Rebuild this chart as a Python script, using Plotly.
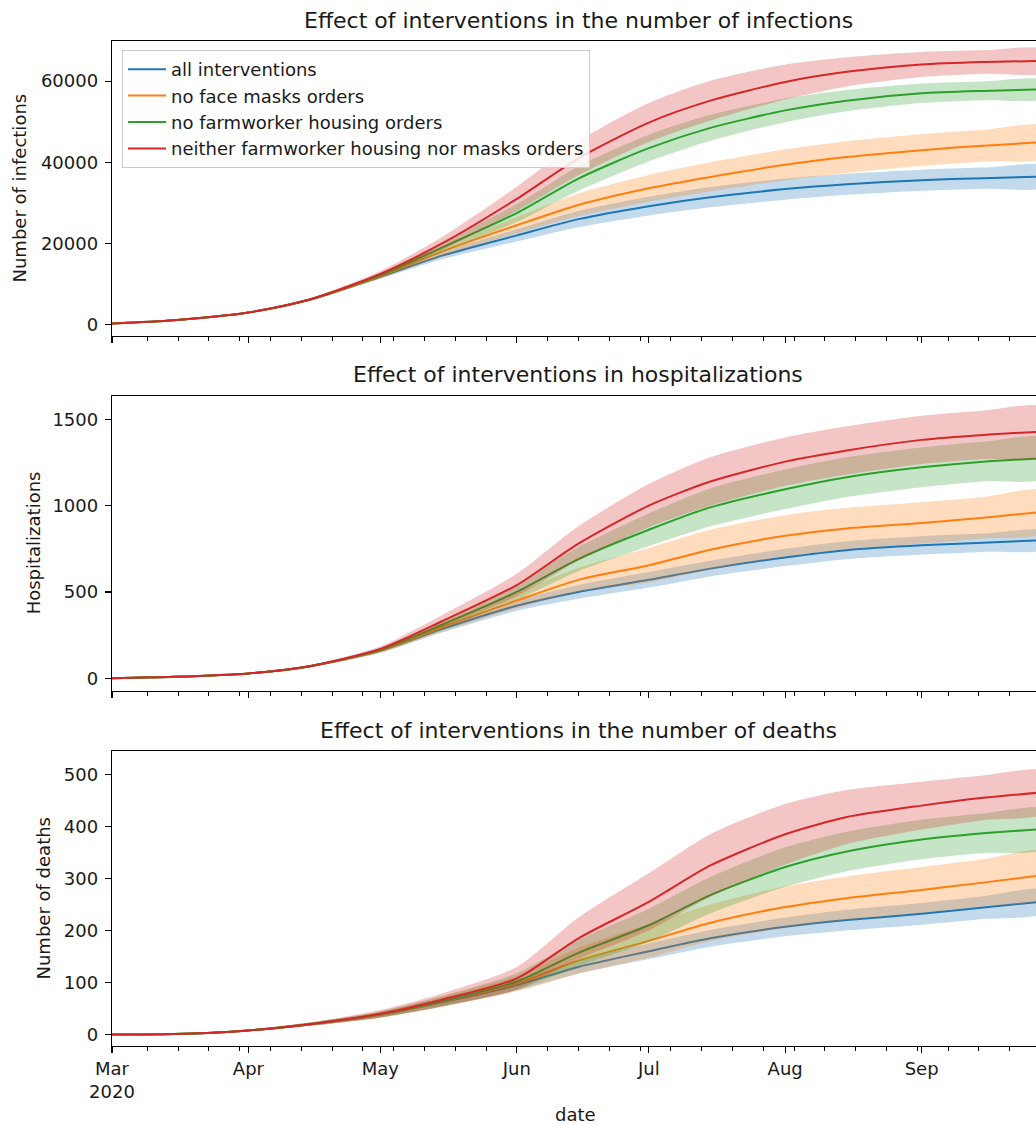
import plotly.graph_objects as go
import pandas as pd

# ---------------- data ----------------
dates = ["2020-03-01", "2020-03-15", "2020-04-01", "2020-04-15", "2020-05-01",
         "2020-05-15", "2020-06-01", "2020-06-15", "2020-07-01", "2020-07-15",
         "2020-08-01", "2020-08-15", "2020-09-01", "2020-09-15", "2020-09-29"]

scenario_names = ["all interventions", "no face masks orders",
                  "no farmworker housing orders",
                  "neither farmworker housing nor masks orders"]
scenario_colors = ["#1f77b4", "#ff7f0e", "#2ca02c", "#d62728"]

# infections: mean and half-width of the band
inf_all = [300, 1100, 3000, 6200, 11800, 17000, 22000, 26000, 29200, 31400, 33400, 34600, 35600, 36100, 36500]
inf_nomask = [300, 1100, 3000, 6200, 12000, 18000, 24500, 29500, 33600, 36400, 39400, 41300, 43000, 44100, 45000]
inf_nohousing = [300, 1100, 3000, 6200, 12200, 19000, 27500, 36000, 43500, 48500, 52800, 55200, 57000, 57600, 58000]
inf_neither = [300, 1100, 3000, 6200, 12500, 20000, 31000, 41000, 49800, 55200, 59800, 62300, 64100, 64700, 65000]
inf_all_err = [0, 50, 150, 300, 500, 900, 1500, 2000, 2300, 2500, 2600, 2600, 2600, 2600, 2600]
inf_nomask_err = [0, 50, 150, 300, 600, 1200, 2000, 2800, 3300, 3600, 3800, 3900, 3900, 3900, 3900]
inf_nohousing_err = [0, 50, 150, 300, 600, 1200, 2200, 3000, 3300, 3200, 2900, 2600, 2400, 2300, 2250]
inf_neither_err = [0, 50, 150, 300, 700, 1600, 3000, 4200, 4800, 4900, 4300, 3600, 3100, 2900, 2800]

# hospitalizations
hosp_all = [0, 8, 28, 70, 160, 285, 420, 500, 570, 635, 700, 742, 770, 785, 800]
hosp_nomask = [0, 8, 28, 70, 160, 295, 450, 570, 655, 745, 825, 868, 900, 930, 965]
hosp_nohousing = [0, 8, 28, 70, 165, 310, 500, 690, 860, 990, 1095, 1165, 1222, 1255, 1275]
hosp_neither = [0, 8, 28, 70, 170, 330, 540, 780, 1000, 1140, 1255, 1320, 1381, 1410, 1430]
hosp_all_err = [0, 1, 3, 6, 12, 20, 30, 40, 45, 45, 50, 52, 53, 53, 53]
hosp_nomask_err = [0, 1, 3, 6, 12, 25, 45, 70, 100, 115, 120, 120, 120, 120, 121]
hosp_nohousing_err = [0, 1, 3, 6, 12, 25, 45, 70, 95, 110, 115, 115, 115, 115, 116]
hosp_neither_err = [0, 1, 3, 6, 15, 35, 65, 100, 125, 140, 140, 140, 140, 140, 140]

# deaths
death_all = [0, 1, 8, 20, 38, 62, 95, 130, 160, 185, 207, 220, 232, 244, 256]
death_nomask = [0, 1, 8, 20, 38, 63, 98, 142, 180, 215, 245, 262, 278, 292, 307]
death_nohousing = [0, 1, 8, 20, 39, 64, 102, 157, 210, 268, 322, 352, 375, 387, 395]
death_neither = [0, 1, 8, 20, 40, 67, 108, 185, 255, 325, 385, 418, 440, 455, 466]
death_all_err = [0, 0.5, 1.5, 3, 5, 8, 10, 13, 15, 16, 18, 20, 21, 22, 22]
death_nomask_err = [0, 0.5, 1.5, 3, 6, 10, 15, 25, 32, 35, 40, 42, 44, 45, 45]
death_nohousing_err = [0, 0.5, 1.5, 3, 6, 10, 16, 25, 32, 35, 38, 38, 38, 38, 38]
death_neither_err = [0, 0.5, 1.5, 3, 7, 12, 22, 40, 55, 60, 58, 52, 46, 43, 40]

panel_titles = ["Effect of interventions in the number of infections",
                "Effect of interventions in hospitalizations",
                "Effect of interventions in the number of deaths"]
panel_ylabels = ["Number of infections", "Hospitalizations", "Number of deaths"]

month_ticks = ["2020-03-01", "2020-04-01", "2020-05-01", "2020-06-01",
               "2020-07-01", "2020-08-01", "2020-09-01"]
month_labels = ["Mar<br>2020", "Apr", "May", "Jun", "Jul", "Aug", "Sep"]

# ---------------- figure ----------------
W, H = 1036, 1125
FONT = "DejaVu Sans"
TXT = "#1a1a1a"


def fx(p):
    return p / W


def fy(p):
    return 1 - p / H


def rgba(hexc, a):
    h = hexc.lstrip("#")
    r, g, b = int(h[0:2], 16), int(h[2:4], 16), int(h[4:6], 16)
    return f"rgba({r},{g},{b},{a})"


panels = [
    ([inf_all, inf_nomask, inf_nohousing, inf_neither],
     [inf_all_err, inf_nomask_err, inf_nohousing_err, inf_neither_err]),
    ([hosp_all, hosp_nomask, hosp_nohousing, hosp_neither],
     [hosp_all_err, hosp_nomask_err, hosp_nohousing_err, hosp_neither_err]),
    ([death_all, death_nomask, death_nohousing, death_neither],
     [death_all_err, death_nomask_err, death_nohousing_err, death_neither_err]),
]

fig = go.Figure()
for pi, (means, errs) in enumerate(panels):
    xa = "x" if pi == 0 else f"x{pi + 1}"
    ya = "y" if pi == 0 else f"y{pi + 1}"
    for si, (m, e) in enumerate(zip(means, errs)):
        col = scenario_colors[si]
        fig.add_trace(go.Scatter(
            x=dates, y=m, mode="lines", name=scenario_names[si],
            line=dict(color=col, width=2, shape="spline", smoothing=0.7),
            showlegend=(pi == 0), legendgroup=scenario_names[si],
            xaxis=xa, yaxis=ya, hoverinfo="skip"))
        upper = [a + b for a, b in zip(m, e)]
        lower = [a - b for a, b in zip(m, e)]
        fig.add_trace(go.Scatter(
            x=dates + dates[::-1], y=upper + lower[::-1], mode="lines",
            fill="toself", fillcolor=rgba(col, 0.27),
            line=dict(width=0, shape="spline", smoothing=0.7),
            showlegend=False, legendgroup=scenario_names[si],
            xaxis=xa, yaxis=ya, hoverinfo="skip"))

minor_vals = [d.strftime("%Y-%m-%d") for d in
              pd.date_range("2020-03-09", "2020-09-28", freq="W-MON")]

# pixel geometry of the three panels (top, bottom)
panel_px = [(41, 336), (395.7, 691), (751, 1046)]
y_ranges = [[-2800, 69900], [-74, 1637], [-22, 545]]
y_ticks = [[0, 20000, 40000, 60000], [0, 500, 1000, 1500],
           [0, 100, 200, 300, 400, 500]]

xaxis_common = dict(
    type="date", range=["2020-03-01", "2020-09-27"],
    domain=[fx(112), 1.0],
    showline=True, linecolor="black", linewidth=1.2, mirror=True,
    ticks="outside", ticklen=6, tickwidth=1.2, tickcolor="black",
    tickmode="array", tickvals=month_ticks, ticktext=month_labels,
    minor=dict(ticks="outside", ticklen=3.5, tickwidth=1, tickcolor="black",
               tickmode="array", tickvals=minor_vals),
    showgrid=False, zeroline=False,
    tickfont=dict(family=FONT, size=18, color=TXT),
    automargin=False,
)

layout = dict(
    width=W, height=H,
    margin=dict(l=0, r=0, t=0, b=0),
    paper_bgcolor="white", plot_bgcolor="white",
    font=dict(family=FONT, size=18, color=TXT),
    showlegend=True,
    legend=dict(x=fx(122), y=fy(50), xanchor="left", yanchor="top",
                bgcolor="rgba(255,255,255,0.85)", bordercolor="#cccccc",
                borderwidth=1, font=dict(family=FONT, size=18, color=TXT),
                itemwidth=38, tracegroupgap=0),
)

annotations = []
for pi in range(3):
    top, bot = panel_px[pi]
    xk = "xaxis" if pi == 0 else f"xaxis{pi + 1}"
    yk = "yaxis" if pi == 0 else f"yaxis{pi + 1}"
    xa = dict(xaxis_common)
    xa["anchor"] = "y" if pi == 0 else f"y{pi + 1}"
    if pi > 0:
        xa["matches"] = "x"
    xa["showticklabels"] = (pi == 2)
    layout[xk] = xa
    layout[yk] = dict(
        domain=[fy(bot), fy(top)], anchor="x" if pi == 0 else f"x{pi + 1}",
        range=y_ranges[pi], tickmode="array", tickvals=y_ticks[pi],
        tickformat="d",
        showline=True, linecolor="black", linewidth=1.2, mirror=False,
        ticks="outside", ticklen=6, tickwidth=1.2, tickcolor="black",
        ticklabelstandoff=3,
        showgrid=False, zeroline=False,
        tickfont=dict(family=FONT, size=18, color=TXT),
        automargin=False,
    )
    annotations.append(dict(
        text=panel_titles[pi], xref="paper", yref="paper",
        x=fx(578), y=fy(top - 21), xanchor="center", yanchor="middle",
        showarrow=False, font=dict(family=FONT, size=22, color=TXT)))

ylabel_x = [19, 33, 43]
for pi in range(3):
    top, bot = panel_px[pi]
    annotations.append(dict(
        text=panel_ylabels[pi], xref="paper", yref="paper",
        x=fx(ylabel_x[pi]), y=fy((top + bot) / 2), xanchor="center",
        yanchor="middle", textangle=-90, showarrow=False,
        font=dict(family=FONT, size=18, color=TXT)))

annotations.append(dict(
    text="date", xref="paper", yref="paper", x=fx(575), y=fy(1114),
    xanchor="center", yanchor="middle", showarrow=False,
    font=dict(family=FONT, size=18, color=TXT)))

layout["annotations"] = annotations
fig.update_layout(**layout)

# remove the default page margin so the figure sits at the window's corner
fig.write_html("out.html",
               config={"displayModeBar": False, "staticPlot": True},
               post_script="document.body.style.margin='0';"
                           "document.body.style.overflow='hidden';")
